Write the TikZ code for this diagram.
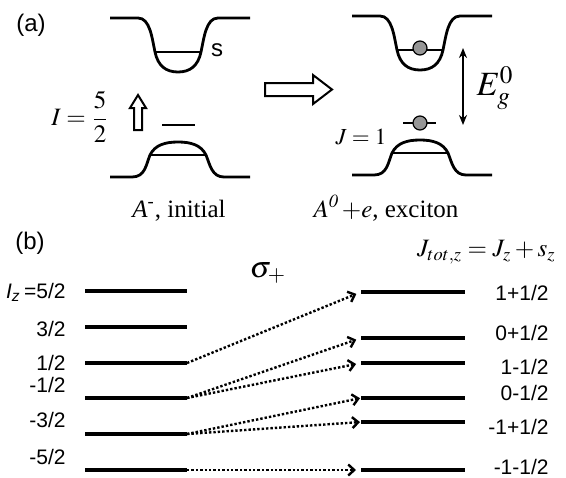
\documentclass[tikz,border=0pt]{standalone}
\usepackage{amsmath}
\usepackage{mathptmx}
\usepackage{fontspec}
\setmainfont{Liberation Serif}
\setsansfont{Liberation Sans}
\usepackage{tikz}
\usetikzlibrary{arrows.meta, positioning, calc}
\definecolor{dotgray}{RGB}{150,150,150}
\tikzset{
  band/.style={line width=1.4pt, line join=round},
  lvl/.style={line width=0.8pt},
  spinlvl/.style={line width=1.6pt},
  carrier/.style={circle, draw=black, fill=dotgray, line width=0.6pt,
    minimum size=7pt, inner sep=0pt},
  trans/.style={-{Straight Barb[length=3pt, width=5.5pt]}, line width=1.2pt,
    densely dotted, shorten >=2.5pt},
  hollow/.style={draw=black, fill=white, line width=1pt, line join=miter},
  lbl/.style={font=\sffamily\fontsize{10.5}{12}\selectfont},
  tag/.style={font=\sffamily\fontsize{12}{14}\selectfont}
}

\begin{document}
\begin{tikzpicture}[x=0.5pt, y=-0.5pt, every node/.style={inner sep=1pt}]
  \useasboundingbox (0,0) rectangle (566,477);

  % Panel tags
  \node[tag] (tagA) at (31,25) {(a)};
  \node[tag] (tagB) at (30,243) {(b)};

  % Bands, same shape for both states
  \foreach \dx/\dy in {0/0, 242/-2} {
    \begin{scope}[shift={(\dx,\dy)}]
      \draw[band] (110,18) -- (138,18) .. controls (150,18) and (152,38) .. (155,52)
        .. controls (158,66) and (166,72) .. (178,72)
        .. controls (190,72) and (198,66) .. (201,52)
        .. controls (204,38) and (206,18) .. (218,18) -- (250,18);
      \draw[lvl] (155,52) -- (201,52);
      \draw[band] (110,177) -- (132,177) .. controls (145,177) and (146,165) .. (150,155)
        .. controls (155,145) and (165,142) .. (178,142)
        .. controls (191,142) and (201,145) .. (206,155)
        .. controls (210,165) and (212,177) .. (224,177) -- (250,177);
      \draw[lvl] (150,155) -- (206,155);
    \end{scope}
  }

  % Initial state
  \node[tag] (sLbl) at (217,50) {s};
  \draw[lvl] (162,125) -- (195,125);
  \draw[hollow] (138,95) -- (146,108) -- (142,108) -- (142,130) -- (134,130)
    -- (134,108) -- (130,108) -- cycle;
  \node[font=\fontsize{12.5}{14}\selectfont] (spinI) at (80,117) {$I=\dfrac{5}{2}$};
  \node[font=\fontsize{12.5}{14}\selectfont, anchor=base] (initial) at (179,217)
    {\textit{A}\textsuperscript{-}, initial};

  % Transition
  \draw[hollow] (265,83) -- (313,83) -- (313,75) -- (332,89.5) -- (313,104)
    -- (313,96) -- (265,96) -- cycle;

  % Exciton state
  \draw[lvl] (403,123) -- (436,123);
  \node[carrier] (eDot) at (420,48) {};
  \node[carrier] (hDot) at (420,123) {};
  \coordinate (egTop) at (463,48);
  \coordinate (egBot) at (463,125);
  \draw[{Stealth[length=5pt, width=4pt]}-{Stealth[length=5pt, width=4pt]}, line width=1pt]
    (egTop) -- (egBot);
  \node[font=\fontsize{17}{19}\selectfont] (gap) at (495,88) {$E_g^0$};
  \node[font=\fontsize{11.5}{13}\selectfont] (Jone) at (361,137) {$J=1$};
  \node[font=\fontsize{12.5}{14}\selectfont, anchor=base] (exciton) at (386,217)
    {$A^{\mathit{0}}\,{+}e$, exciton};

  % (b) spin levels of the acceptor
  \coordinate (a1l) at (85,291);  \coordinate (a1r) at (187,291);
  \coordinate (a2l) at (85,327);  \coordinate (a2r) at (187,327);
  \coordinate (a3l) at (85,363);  \coordinate (a3r) at (187,363);
  \coordinate (a4l) at (85,398);  \coordinate (a4r) at (187,398);
  \coordinate (a5l) at (85,434);  \coordinate (a5r) at (187,434);
  \coordinate (a6l) at (85,470);  \coordinate (a6r) at (187,470);
  \foreach \i in {1,...,6} \draw[spinlvl] (a\i l) -- (a\i r);

  \node[lbl, anchor=east] (iz5) at (68,292) {\textit{I}\textsubscript{\textit{z}}\,=5/2};
  \node[lbl, anchor=east] (iz3) at (68,329) {3/2};
  \node[lbl, anchor=east] (iz1) at (68,363) {1/2};
  \node[lbl, anchor=east] (izm1) at (68,385) {-1/2};
  \node[lbl, anchor=east] (izm3) at (68,420) {-3/2};
  \node[lbl, anchor=east] (izm5) at (68,457) {-5/2};

  % exciton levels
  \coordinate (x1l) at (361,292); \coordinate (x1r) at (465,292);
  \coordinate (x2l) at (361,338); \coordinate (x2r) at (465,338);
  \coordinate (x3l) at (361,363); \coordinate (x3r) at (465,363);
  \coordinate (x4l) at (361,398); \coordinate (x4r) at (465,398);
  \coordinate (x5l) at (361,422); \coordinate (x5r) at (465,422);
  \coordinate (x6l) at (361,470); \coordinate (x6r) at (465,470);
  \foreach \i in {1,...,6} \draw[spinlvl] (x\i l) -- (x\i r);

  \node[lbl, anchor=east] (jt1) at (551,293) {1+1/2};
  \node[lbl, anchor=east] (jt2) at (551,333) {0+1/2};
  \node[lbl, anchor=east] (jt3) at (551,367) {1-1/2};
  \node[lbl, anchor=east] (jt4) at (551,393) {0-1/2};
  \node[lbl, anchor=east] (jt5) at (551,427) {-1+1/2};
  \node[lbl, anchor=east] (jt6) at (551,467) {-1-1/2};

  \node[font=\fontsize{15}{17}\selectfont] (sigma) at (268,273) {$\sigma_+$};
  \node[font=\fontsize{12.5}{14}\selectfont, anchor=east] (jtot) at (558,252)
    {$J_{tot,z}=J_z+s_z$};

  % sigma+ transitions
  \draw[trans] (a3r) -- (x1l);
  \draw[trans] (a4r) -- (x2l);
  \draw[trans] (a4r) -- (x3l);
  \draw[trans, shorten >=0.5pt] (a5r) -- (x4l);
  \draw[trans, shorten >=0.5pt] (a5r) -- (x5l);
  \draw[trans] (a6r) -- (x6l);
\end{tikzpicture}
\end{document}
